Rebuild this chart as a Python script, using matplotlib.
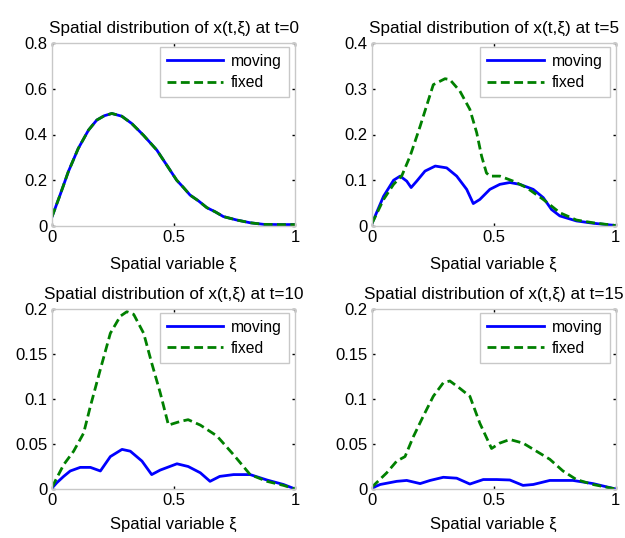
import matplotlib
matplotlib.use("Agg")
import matplotlib.pyplot as plt

plt.rcParams['font.family'] = ['Liberation Sans', 'DejaVu Sans']
plt.rcParams['font.size'] = 10

# t = 0 (moving and fixed coincide)
x0 = [0.0, 0.033, 0.067, 0.108, 0.15, 0.184, 0.215, 0.246, 0.287, 0.328, 0.376,
      0.431, 0.472, 0.513, 0.54, 0.568, 0.602, 0.637, 0.671, 0.705, 0.76,
      0.815, 0.87, 0.93, 1.0]
y0 = [0.04, 0.135, 0.237, 0.339, 0.419, 0.463, 0.482, 0.492, 0.48, 0.448, 0.397,
      0.332, 0.266, 0.2, 0.169, 0.135, 0.11, 0.08, 0.062, 0.041, 0.026,
      0.014, 0.007, 0.006, 0.006]

# t = 5
x5_mov = [0.0, 0.02, 0.048, 0.089, 0.116, 0.143, 0.161, 0.184, 0.218, 0.26, 0.307,
          0.348, 0.389, 0.416, 0.443, 0.484, 0.525, 0.566, 0.607, 0.662, 0.703,
          0.737, 0.771, 0.839, 0.907, 1.0]
y5_mov = [0.005, 0.03, 0.065, 0.10, 0.109, 0.098, 0.084, 0.098, 0.12, 0.131, 0.127,
          0.109, 0.08, 0.049, 0.058, 0.08, 0.091, 0.095, 0.091, 0.08, 0.062,
          0.036, 0.022, 0.011, 0.006, 0.001]
x5_fix = [0.0, 0.048, 0.089, 0.123, 0.157, 0.198, 0.252, 0.30, 0.32, 0.361, 0.402,
          0.43, 0.45, 0.47, 0.484, 0.525, 0.58, 0.634, 0.703, 0.771, 0.839, 0.907, 1.0]
y5_fix = [0.005, 0.058, 0.091, 0.11, 0.153, 0.218, 0.309, 0.322, 0.32, 0.295, 0.255,
          0.204, 0.153, 0.116, 0.109, 0.109, 0.098, 0.084, 0.058, 0.029, 0.013, 0.007, 0.001]

# t = 10
x10_mov = [0.0, 0.02, 0.048, 0.075, 0.116, 0.158, 0.199, 0.24, 0.288, 0.322, 0.37,
           0.41, 0.445, 0.514, 0.56, 0.61, 0.65, 0.69, 0.747, 0.815, 0.884, 0.952, 1.0]
y10_mov = [0.001, 0.007, 0.014, 0.02, 0.024, 0.024, 0.02, 0.036, 0.044, 0.042, 0.031,
           0.016, 0.021, 0.028, 0.025, 0.018, 0.0085, 0.014, 0.016, 0.016, 0.01, 0.005, 0.0]
x10_fix = [0.0, 0.048, 0.089, 0.13, 0.158, 0.199, 0.24, 0.281, 0.308, 0.336, 0.377,
           0.41, 0.445, 0.479, 0.527, 0.56, 0.61, 0.678, 0.747, 0.815, 0.884, 0.952, 1.0]
y10_fix = [0.002, 0.027, 0.042, 0.062, 0.092, 0.133, 0.173, 0.192, 0.197, 0.194, 0.173,
           0.14, 0.107, 0.071, 0.075, 0.077, 0.071, 0.059, 0.038, 0.016, 0.0085, 0.004, 0.0]

# t = 15
x15_mov = [0.0, 0.034, 0.102, 0.143, 0.198, 0.239, 0.293, 0.348, 0.402, 0.457, 0.512,
           0.566, 0.62, 0.662, 0.73, 0.825, 0.907, 1.0]
y15_mov = [0.001, 0.005, 0.0085, 0.0095, 0.006, 0.0095, 0.013, 0.012, 0.0055, 0.0105, 0.0105,
           0.01, 0.004, 0.005, 0.0095, 0.0095, 0.006, 0.0]
x15_fix = [0.0, 0.061, 0.102, 0.136, 0.17, 0.211, 0.252, 0.293, 0.32, 0.36, 0.402,
           0.443, 0.491, 0.525, 0.566, 0.62, 0.675, 0.73, 0.784, 0.839, 0.907, 1.0]
y15_fix = [0.002, 0.018, 0.031, 0.036, 0.058, 0.081, 0.103, 0.118, 0.12, 0.112, 0.103,
           0.073, 0.045, 0.051, 0.055, 0.051, 0.042, 0.033, 0.02, 0.0105, 0.005, 0.0]

times = ["0", "5", "10", "15"]
series = [
    (x0, y0, x0, y0),
    (x5_mov, y5_mov, x5_fix, y5_fix),
    (x10_mov, y10_mov, x10_fix, y10_fix),
    (x15_mov, y15_mov, x15_fix, y15_fix),
]
yticks = [
    ([0, 0.2, 0.4, 0.6, 0.8], ["0", "0.2", "0.4", "0.6", "0.8"]),
    ([0, 0.1, 0.2, 0.3, 0.4], ["0", "0.1", "0.2", "0.3", "0.4"]),
    ([0, 0.05, 0.1, 0.15, 0.2], ["0", "0.05", "0.1", "0.15", "0.2"]),
    ([0, 0.05, 0.1, 0.15, 0.2], ["0", "0.05", "0.1", "0.15", "0.2"]),
]
xticks = [0, 0.5, 1]
xticklabels = ["0", "0.5", "1"]

fig = plt.figure(figsize=(6.25, 5.38), dpi=100)
positions = [
    [0.0832, 0.580, 0.389, 0.340],
    [0.595, 0.580, 0.390, 0.340],
    [0.0832, 0.0911, 0.389, 0.3346],
    [0.595, 0.0911, 0.390, 0.3346],
]
labelpads = [8.5, 8.5, 6.5, 6.5]

for i, ax_pos in enumerate(positions):
    ax = fig.add_axes(ax_pos)
    xm, ym, xf, yf = series[i]
    ax.plot(xm, ym, color='#0000ff', lw=2.0, label='moving')
    ax.plot(xf, yf, color='#008000', lw=2.0, ls=(0, (3.2, 1.6)), label='fixed')
    ax.set_xlim(0, 1)
    yt, yl = yticks[i]
    ax.set_ylim(yt[0], yt[-1])
    ax.set_yticks(yt)
    ax.set_yticklabels(yl)
    ax.set_xticks(xticks)
    ax.set_xticklabels(xticklabels)
    ax.tick_params(direction='in', length=2.5, width=1, color='black',
                   top=True, right=True, labelsize=12, pad=3)
    for sp in ax.spines.values():
        sp.set_color('#c8c8c8')
        sp.set_linewidth(1.0)
    ax.set_title("Spatial distribution of x(t,\u03be) at t=" + times[i], fontsize=12.3, pad=7)
    ax.set_xlabel("Spatial variable \u03be", fontsize=12, labelpad=labelpads[i])
    leg = ax.legend(loc='upper right', bbox_to_anchor=(0.975, 0.98), fontsize=11.3,
                    fancybox=False, framealpha=1, edgecolor='#c8c8c8',
                    handlelength=3.6, borderpad=0.45, labelspacing=0.4,
                    handletextpad=0.5, borderaxespad=0)
    leg.get_frame().set_linewidth(1.0)

fig.savefig("out.png", dpi=100)
